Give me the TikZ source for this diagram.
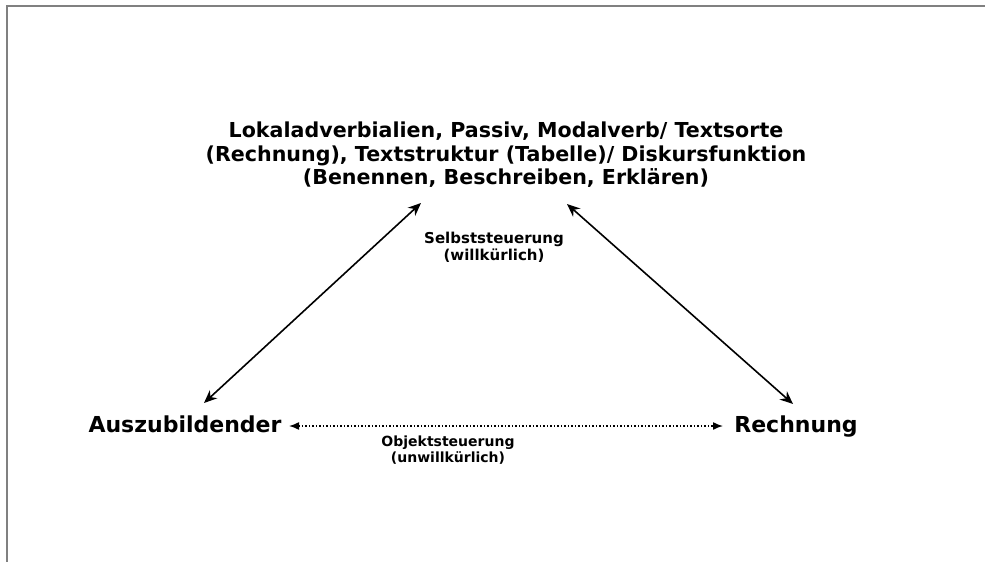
\documentclass[tikz,border=0pt]{standalone}
\usepackage{fontspec}
\setmainfont{DejaVu Sans}
\usetikzlibrary{arrows.meta}
\begin{document}
\begin{tikzpicture}[x=1pt,y=-1pt,
  bigtxt/.style={font=\bfseries\fontsize{20.6}{23.5}\selectfont, align=center, inner sep=0pt},
  nodetxt/.style={font=\bfseries\fontsize{22}{26}\selectfont, align=center, inner sep=0pt, anchor=base},
  smalltxt/.style={font=\bfseries\fontsize{15}{17}\selectfont, align=center, inner sep=0pt},
  solidarr/.style={line width=1.6pt, {Stealth[length=13pt,width=11pt]}-{Stealth[length=13pt,width=11pt]}},
  dotarr/.style={line width=1.5pt, dotted, {Latex[length=10pt,width=8pt]}-{Latex[length=10pt,width=8pt]}},
  frame/.style={line width=2pt, draw={rgb,255:red,128;green,128;blue,128}}]
\useasboundingbox (0,0) rectangle (985,562);
\fill[white] (0,0) rectangle (985,562);
\draw[frame] (7,562) -- (7,5.5) -- (985,5.5);
\node[bigtxt] (top) at (506,155) {Lokaladverbialien, Passiv, Modalverb/ Textsorte\\(Rechnung), Textstruktur (Tabelle)/ Diskursfunktion\\(Benennen, Beschreiben, Erklären)};
\node[smalltxt] (sel) at (494,247.5) {Selbststeuerung\\(willkürlich)};
\node[nodetxt] (aus) at (185,432) {Auszubildender};
\node[nodetxt] (rech) at (796,432) {Rechnung};
\node[smalltxt, font=\bfseries\fontsize{14}{16}\selectfont] (obj) at (448,450) {Objektsteuerung\\(unwillkürlich)};
\coordinate (lb) at (204,403);
\coordinate (lt) at (421,203);
\coordinate (rt) at (567,204);
\coordinate (rb) at (793,404);
\coordinate (hl) at (289,426);
\coordinate (hr) at (723,426);
\draw[solidarr] (lb) -- (lt);
\draw[solidarr] (rt) -- (rb);
\draw[dotarr] (hl) -- (hr);
\end{tikzpicture}
\end{document}
